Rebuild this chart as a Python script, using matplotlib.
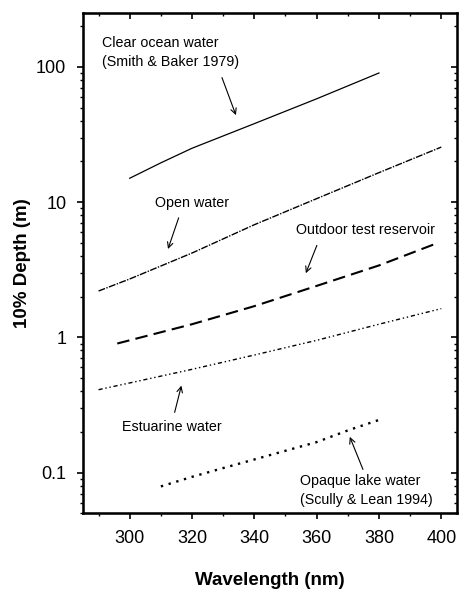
import numpy as np
import matplotlib
matplotlib.use('Agg')
import matplotlib.pyplot as plt
from matplotlib.ticker import MultipleLocator, LogLocator, NullFormatter, FixedLocator, FixedFormatter

plt.rcParams['font.family'] = ['Liberation Sans', 'DejaVu Sans']

# wavelength (nm) and 10% depth (m)
ocean_wl = [300, 310, 320, 340, 360, 380]
ocean_d = [15, 19.5, 25, 38, 58, 90]

open_wl = [290, 300, 320, 340, 360, 380, 400]
open_d = [2.2, 2.7, 4.2, 6.8, 10.6, 16.5, 25.5]

res_wl = [296, 320, 340, 360, 380, 398]
res_d = [0.9, 1.25, 1.7, 2.4, 3.4, 4.9]

est_wl = [290, 300, 320, 340, 360, 380, 400]
est_d = [0.41, 0.46, 0.58, 0.74, 0.95, 1.25, 1.63]

lake_wl = [310, 320, 330, 340, 350, 360, 370, 380]
lake_d = [0.079, 0.093, 0.108, 0.125, 0.145, 0.168, 0.205, 0.245]

fig = plt.figure(figsize=(4.61, 5.90), dpi=100)
ax = fig.add_axes([0.180, 0.130, 0.811, 0.848])

ax.plot(ocean_wl, ocean_d, color='black', lw=0.9, ls='-')
ax.plot(open_wl, open_d, color='black', lw=1.0, ls=(0, (5, 1, 1, 1)))
ax.plot(res_wl, res_d, color='black', lw=1.5, ls=(0, (6, 3)))
ax.plot(est_wl, est_d, color='black', lw=1.0, ls=(0, (3, 2, 1, 2, 1, 2)))
ax.plot(lake_wl, lake_d, color='black', lw=1.7, ls=(0, (1, 2.4)))

ax.set_yscale('log')
ax.set_xlim(285, 405)
ax.set_ylim(0.05, 250)

ax.xaxis.set_major_locator(MultipleLocator(20))
ax.xaxis.set_minor_locator(MultipleLocator(10))
ax.yaxis.set_major_locator(FixedLocator([0.1, 1, 10, 100]))
ax.yaxis.set_major_formatter(FixedFormatter(['0.1', '1', '10', '100']))
ax.yaxis.set_minor_locator(LogLocator(base=10, subs=np.arange(2, 10)))
ax.yaxis.set_minor_formatter(NullFormatter())

ax.tick_params(which='major', direction='out', length=4, width=1.2, labelsize=13, pad=8)
ax.tick_params(which='minor', direction='out', length=2, width=1)
for s in ax.spines.values():
    s.set_linewidth(1.8)

# mirrored ticks pointing inward on top and right
axt = ax.twiny()
axt.set_xlim(ax.get_xlim())
axt.xaxis.set_major_locator(MultipleLocator(20))
axt.xaxis.set_minor_locator(MultipleLocator(10))
axt.tick_params(which='major', direction='in', length=4, width=1.2, labeltop=False)
axt.tick_params(which='minor', direction='in', length=2, width=1)
axr = ax.twinx()
axr.set_yscale('log')
axr.set_ylim(ax.get_ylim())
axr.yaxis.set_major_locator(FixedLocator([0.1, 1, 10, 100]))
axr.yaxis.set_minor_locator(LogLocator(base=10, subs=np.arange(2, 10)))
axr.yaxis.set_minor_formatter(NullFormatter())
axr.tick_params(which='major', direction='in', length=4, width=1.2, labelright=False)
axr.tick_params(which='minor', direction='in', length=2, width=1, labelright=False)

ax.set_xlabel('Wavelength (nm)', fontsize=13.5, fontweight='bold', labelpad=18)
ax.set_ylabel('10% Depth (m)', fontsize=13.5, fontweight='bold', labelpad=4)

arrow = dict(arrowstyle='->', color='black', lw=0.8)
fs = 10.3
ax.text(291, 128, 'Clear ocean water\n(Smith & Baker 1979)', fontsize=fs, va='center', linespacing=1.4)
ax.annotate('', xy=(334.4, 42), xytext=(329.3, 87), arrowprops=arrow)

ax.text(308, 9.8, 'Open water', fontsize=fs, va='center')
ax.annotate('', xy=(312, 4.3), xytext=(316, 8.0), arrowprops=arrow)

ax.text(353.3, 6.2, 'Outdoor test reservoir', fontsize=fs, va='center')
ax.annotate('', xy=(356.2, 2.85), xytext=(360.4, 5.0), arrowprops=arrow)

ax.text(297.5, 0.217, 'Estuarine water', fontsize=fs, va='center')
ax.annotate('', xy=(316.8, 0.46), xytext=(314.2, 0.266), arrowprops=arrow)

ax.text(354.6, 0.0735, 'Opaque lake water\n(Scully & Lean 1994)', fontsize=fs, va='center', linespacing=1.4)
ax.annotate('', xy=(370.3, 0.192), xytext=(375.2, 0.101), arrowprops=arrow)

fig.savefig('out.png', dpi=100)
